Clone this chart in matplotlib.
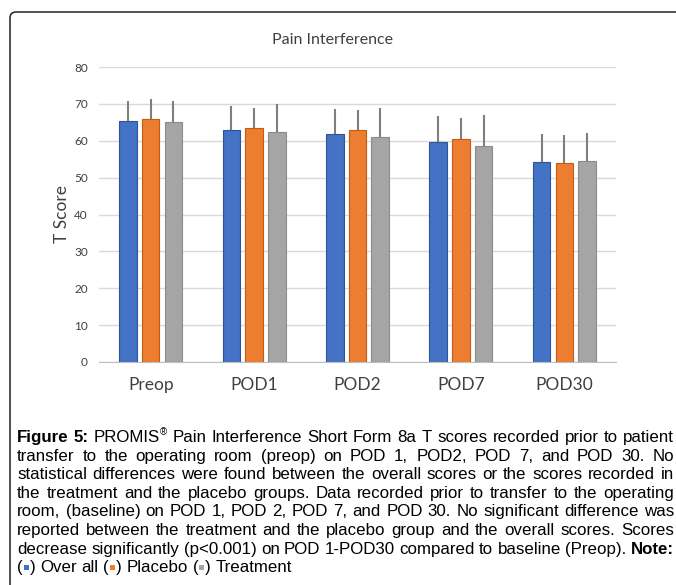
import re
import numpy as np
import matplotlib
matplotlib.use('Agg')
import matplotlib.pyplot as plt
from matplotlib.patches import FancyBboxPatch, Rectangle
from matplotlib.transforms import IdentityTransform

W, H = 676, 585

categories = ['Preop', 'POD1', 'POD2', 'POD7', 'POD30']
overall = [65.4, 63.0, 61.7, 59.6, 54.3]
placebo = [65.8, 63.5, 62.9, 60.6, 54.1]
treatment = [65.2, 62.5, 60.9, 58.7, 54.6]
# only the upper half of the error bars is shown
overall_err = [5.5, 6.4, 7.0, 7.1, 7.6]
placebo_err = [5.5, 5.4, 5.4, 5.7, 7.4]
treatment_err = [5.7, 7.4, 8.0, 8.2, 7.5]
yticks = [0, 10, 20, 30, 40, 50, 60, 70, 80]

# caption, broken as in the figure; *word = bold, ^x = superscript, {b} = colour square
caption_lines = [
    "*Figure *5: PROMIS^® Pain Interference Short Form 8a T scores recorded prior to patient",
    "transfer to the operating room (preop) on POD 1, POD2, POD 7, and POD 30. No",
    "statistical differences were found between the overall scores or the scores recorded in",
    "the treatment and the placebo groups. Data recorded prior to transfer to the operating",
    "room, (baseline) on POD 1, POD 2, POD 7, and POD 30. No significant difference was",
    "reported between the treatment and the placebo group and the overall scores. Scores",
    "decrease significantly (p<0.001) on POD 1-POD30 compared to baseline (Preop). *Note:",
    "({b}) Over all ({o}) Placebo ({g}) Treatment",
]

colors = ['#4472C4', '#ED7D31', '#A5A5A5']
edges = ['#2F5597', '#C55A11', '#8C8C8C']
square_colors = {'b': colors[0], 'o': colors[1], 'g': colors[2]}
txt_col = '#404040'
chart_font = 'Lato'
cap_font = ['Liberation Sans Narrow', 'Liberation Sans', 'DejaVu Sans']

fig = plt.figure(figsize=(W / 100, H / 100), dpi=100)

# frame with rounded corner, running off the right and bottom edges
frame = FancyBboxPatch((10, -20), 720, H - 12 + 20,
                       boxstyle='round,pad=0,rounding_size=6',
                       fc='none', ec='#222222', lw=1.1,
                       transform=IdentityTransform())
fig.add_artist(frame)

ax = fig.add_axes([99 / W, 1 - 362 / H, 517 / W, 295 / H])
x = np.arange(len(categories))
series = [(overall, overall_err), (placebo, placebo_err), (treatment, treatment_err)]
for i, (vals, errs) in enumerate(series):
    ax.bar(x + (i - 1) * 0.22, vals, 0.17, color=colors[i], edgecolor=edges[i], lw=0.8,
           yerr=[np.zeros(len(errs)), errs],
           error_kw=dict(ecolor='#7F7F7F', elinewidth=1.5, capsize=0), zorder=2)

ax.set_xlim(-0.5, 4.5)
ax.set_ylim(0, 80)
ax.set_yticks(yticks)
ax.set_xticks(x)
ax.set_xticklabels(categories, fontsize=12.5, color=txt_col, family=chart_font)
ax.set_yticklabels([str(t) for t in yticks], fontsize=8.5, color=txt_col, family=chart_font)
ax.tick_params(axis='both', length=0)
ax.tick_params(axis='y', pad=8)
ax.tick_params(axis='x', pad=11)
ax.yaxis.grid(True, color='#D9D9D9', lw=1)
ax.set_axisbelow(True)
for s in ['top', 'right', 'left']:
    ax.spines[s].set_visible(False)
ax.spines['bottom'].set_color('#BFBFBF')

fig.text(332 / W, 1 - 40 / H, 'Pain Interference', ha='center', va='center',
         fontsize=11.5, color=txt_col, family=chart_font)
fig.text(62 / W, 1 - 214 / H, 'T Score', ha='center', va='center', rotation=90,
         fontsize=12.5, color=txt_col, family=chart_font)

# caption, justified word by word
renderer = fig.canvas.get_renderer()
fs = 12.2
fs_px = fs * 100 / 72
x_left, x_right = 17, 674
base0, line_h = 442, 18.6


def make_word(word, y):
    bold = word.startswith('*')
    word = word.lstrip('*')
    items = []
    for piece in re.split(r'(\^.|\{[bog]\})', word):
        if not piece:
            continue
        if piece.startswith('{'):
            items.append(('sq', square_colors[piece[1]], 7.0))
            continue
        sup = piece.startswith('^')
        s = piece[1:] if sup else piece
        t = fig.text(0, y + (0.38 * fs_px if sup else 0), s,
                     fontsize=fs * (0.58 if sup else 1), family=cap_font,
                     fontweight='bold' if bold else 'normal', color='black',
                     va='baseline', transform=IdentityTransform())
        w = t.get_window_extent(renderer=renderer).width
        items.append(('t', t, w))
    return items


probe = fig.text(0, 0, 'a a', fontsize=fs, family=cap_font)
probe2 = fig.text(0, 0, 'aa', fontsize=fs, family=cap_font)
space_w = (probe.get_window_extent(renderer=renderer).width
           - probe2.get_window_extent(renderer=renderer).width)
probe.remove()
probe2.remove()

for n, line in enumerate(caption_lines):
    y = H - (base0 + n * line_h)
    words = [make_word(w, y) for w in line.split(' ')]
    widths = [sum(it[2] for it in wd) for wd in words]
    last = n == len(caption_lines) - 1
    if last:
        gap = space_w
    else:
        gap = (x_right - x_left - sum(widths)) / (len(words) - 1)
    cx = x_left
    for wd, ww in zip(words, widths):
        px = cx
        for it in wd:
            if it[0] == 'sq':
                fig.add_artist(Rectangle((px + 1, y + 2.2), 5, 5, fc=it[1], ec='none',
                                         transform=IdentityTransform()))
            else:
                pos = it[1].get_position()
                it[1].set_position((px, pos[1]))
            px += it[2]
        cx += ww + gap

fig.savefig('out.png', dpi=100)
